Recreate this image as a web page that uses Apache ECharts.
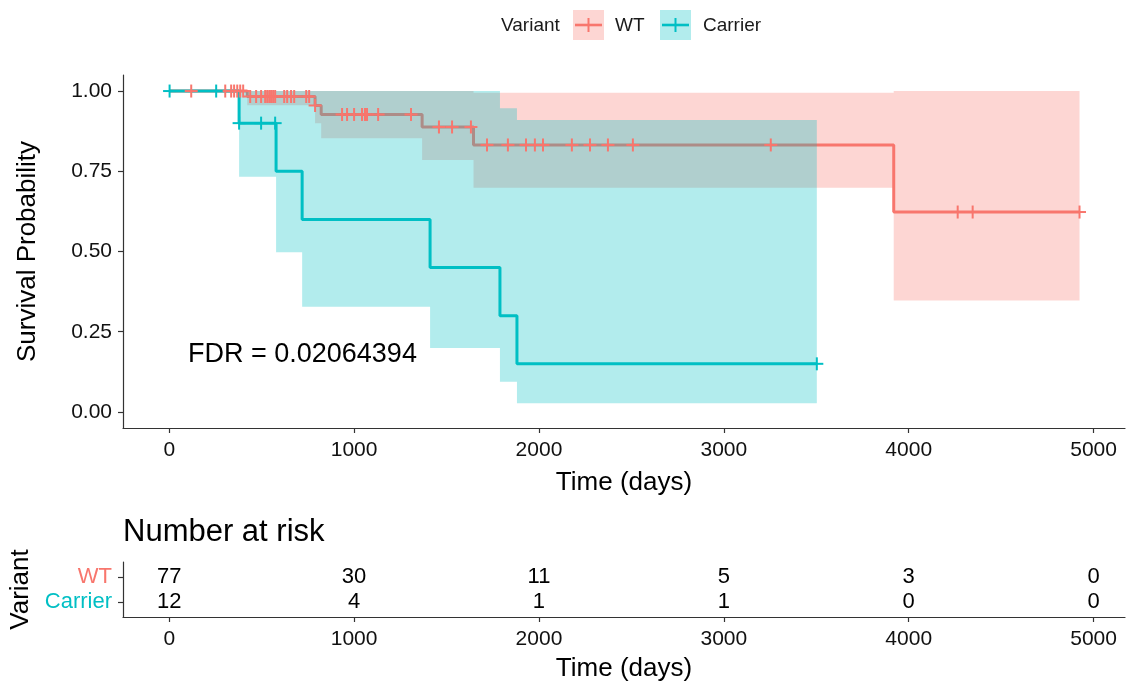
<!DOCTYPE html>
<html>
<head>
<meta charset="utf-8">
<title>Survival by Variant</title>
<script src="https://cdn.jsdelivr.net/npm/echarts@6/dist/echarts.min.js"></script>
<style>
  html, body { margin: 0; padding: 0; background: #ffffff; }
  #chart { width: 1128px; height: 682px; }
</style>
</head>
<body>
<div id="chart"></div>
<script>
// ---- data -------------------------------------------------------------
const timeTicks = [0, 1000, 2000, 3000, 4000, 5000];
const survTicks = [0, 0.25, 0.5, 0.75, 1];

// WT group: event times, survival after each event, confidence limits
const wtEventTimes = [422, 789, 822, 1368, 1646, 3919];
const wtSurv       = [0.983, 0.955, 0.927, 0.888, 0.832, 0.623];
const wtLower      = [0.956, 0.900, 0.853, 0.785, 0.699, 0.347];
const wtUpper      = [1.000, 1.000, 1.000, 1.000, 0.995, 1.000];
const wtLastTime   = 4924;
const wtCensorTimes = [119, 303, 335, 351, 368, 384, 400,
  438, 470, 497, 519, 530, 541, 551, 562, 573, 622, 638, 659, 676, 741, 757,
  789, 935, 962, 1000, 1043, 1059, 1070, 1130, 1308,
  1459, 1530, 1632,
  1719, 1832, 1930, 1978, 2022, 2178, 2276, 2373, 2508, 3254,
  4265, 4346, 4924];

// Carrier group
const carEventTimes = [378, 578, 719, 1411, 1789, 1881];
const carSurv       = [0.90, 0.75, 0.60, 0.45, 0.30, 0.15];
const carLower      = [0.733, 0.498, 0.328, 0.199, 0.094, 0.027];
const carUpper      = [1.000, 1.000, 1.000, 1.000, 0.946, 0.910];
const carLastTime   = 3503;
const carCensorTimes = [2, 254, 378, 497, 573, 3503];

// number at risk table
const riskTimes   = [0, 1000, 2000, 3000, 4000, 5000];
const riskWT      = [77, 30, 11, 5, 3, 0];
const riskCarrier = [12, 4, 1, 1, 0, 0];

const groupNames = ['WT', 'Carrier'];
const fdrText = 'FDR = 0.02064394';

// ---- helpers ----------------------------------------------------------
const WT_COLOR = '#F8766D';
const CAR_COLOR = '#00BFC4';
const WT_FILL = 'rgba(248,118,109,0.3)';
const CAR_FILL = 'rgba(0,191,196,0.3)';
const FONT = '"Liberation Sans", Arial, sans-serif';

function stepLine(times, surv, last) {
  const pts = [[0, 1]];
  times.forEach((t, i) => pts.push([t, surv[i]]));
  pts.push([last, surv[surv.length - 1]]);
  return pts;
}

function survAt(times, surv, t) {
  let s = 1;
  times.forEach((et, i) => { if (t >= et) s = surv[i]; });
  return s;
}

function bandRenderer(times, last, lo, hi, fill) {
  return function (params, api) {
    if (params.dataIndex !== 0) return null;
    const pts = [];
    for (let i = 0; i < times.length; i++) {
      const x1 = i + 1 < times.length ? times[i + 1] : last;
      pts.push(api.coord([times[i], hi[i]]), api.coord([x1, hi[i]]));
    }
    for (let i = times.length - 1; i >= 0; i--) {
      const x1 = i + 1 < times.length ? times[i + 1] : last;
      pts.push(api.coord([x1, lo[i]]), api.coord([times[i], lo[i]]));
    }
    return { type: 'polygon', shape: { points: pts }, style: { fill: fill } };
  };
}

function crossRenderer(color) {
  return function (params, api) {
    const p = api.coord([api.value(0), api.value(1)]);
    const h = 6.5;
    return {
      type: 'group',
      children: [
        { type: 'line', shape: { x1: p[0] - h, y1: p[1], x2: p[0] + h, y2: p[1] }, style: { stroke: color, lineWidth: 2 } },
        { type: 'line', shape: { x1: p[0], y1: p[1] - h, x2: p[0], y2: p[1] + h }, style: { stroke: color, lineWidth: 2 } }
      ]
    };
  };
}

function riskRenderer(params, api) {
  const p = api.coord([api.value(0), api.value(1)]);
  return {
    type: 'text',
    x: p[0], y: p[1],
    style: { text: String(api.value(2)), fill: '#000', font: '22px ' + FONT, align: 'center', verticalAlign: 'middle' }
  };
}

const axisLineStyle = { color: '#333333', width: 1.2 };
const xMin = -250, xMax = 5170;

function timeAxis(gridIndex) {
  return {
    type: 'value', gridIndex: gridIndex, min: xMin, max: xMax,
    name: 'Time (days)', nameLocation: 'middle', nameGap: gridIndex === 0 ? 42 : 39,
    nameTextStyle: { fontFamily: FONT, fontSize: 26, color: '#000' },
    axisLine: { show: true, onZero: false, lineStyle: axisLineStyle },
    axisTick: { show: true, length: 5, lineStyle: axisLineStyle, customValues: timeTicks },
    axisLabel: { show: true, margin: 12, fontFamily: FONT, fontSize: 21, color: '#111',
      customValues: timeTicks, formatter: v => String(v) },
    splitLine: { show: false }
  };
}

// ---- chart ------------------------------------------------------------
const chart = echarts.init(document.getElementById('chart'), null, { renderer: 'canvas' });

const wtCensor = wtCensorTimes.map(t => [t, survAt(wtEventTimes, wtSurv, t)]);
const carCensor = carCensorTimes.map(t => [t, survAt(carEventTimes, carSurv, t)]);
const riskData = [];
riskTimes.forEach((t, i) => {
  riskData.push([t, 2, riskWT[i]]);
  riskData.push([t, 1, riskCarrier[i]]);
});

const option = {
  backgroundColor: '#ffffff',
  animation: false,
  grid: [
    { left: 123, right: 3, top: 75, height: 353, outerBoundsMode: 'none' },
    { left: 123, right: 3, top: 562, height: 55, outerBoundsMode: 'none' }
  ],
  xAxis: [timeAxis(0), timeAxis(1)],
  yAxis: [
    {
      type: 'value', gridIndex: 0, min: -0.05, max: 1.05,
      name: 'Survival Probability', nameLocation: 'middle', nameGap: 82,
      nameTextStyle: { fontFamily: FONT, fontSize: 26, color: '#000' },
      axisLine: { show: true, onZero: false, lineStyle: axisLineStyle },
      axisTick: { show: true, length: 5, lineStyle: axisLineStyle, customValues: survTicks },
      axisLabel: { show: true, margin: 11, fontFamily: FONT, fontSize: 21, color: '#111',
        customValues: survTicks, formatter: v => v.toFixed(2) },
      splitLine: { show: false }
    },
    {
      type: 'value', gridIndex: 1, min: 0.4, max: 2.6,
      name: 'Variant', nameLocation: 'middle', nameGap: 82,
      nameTextStyle: { fontFamily: FONT, fontSize: 26, color: '#000' },
      axisLine: { show: true, onZero: false, lineStyle: axisLineStyle },
      axisTick: { show: true, length: 5, lineStyle: axisLineStyle, customValues: [1, 2] },
      axisLabel: { show: true, margin: 11, fontFamily: FONT, fontSize: 22,
        customValues: [1, 2],
        formatter: v => (v === 2 ? groupNames[0] : groupNames[1]),
        color: v => (Number(v) === 2 ? WT_COLOR : CAR_COLOR) },
      splitLine: { show: false }
    }
  ],
  series: [
    { name: 'WT', type: 'line', step: 'end', data: stepLine(wtEventTimes, wtSurv, wtLastTime),
      symbol: 'none', lineStyle: { color: WT_COLOR, width: 3 }, z: 2, silent: true },
    { name: 'Carrier', type: 'line', step: 'end', data: stepLine(carEventTimes, carSurv, carLastTime),
      symbol: 'none', lineStyle: { color: CAR_COLOR, width: 3 }, z: 2, silent: true },
    { type: 'custom', data: [[0, 1]], renderItem: bandRenderer(wtEventTimes, wtLastTime, wtLower, wtUpper, WT_FILL), z: 3, silent: true },
    { type: 'custom', data: [[0, 1]], renderItem: bandRenderer(carEventTimes, carLastTime, carLower, carUpper, CAR_FILL), z: 3, silent: true },
    { type: 'custom', data: wtCensor, renderItem: crossRenderer(WT_COLOR), z: 4, silent: true },
    { type: 'custom', data: carCensor, renderItem: crossRenderer(CAR_COLOR), z: 4, silent: true },
    { type: 'custom', xAxisIndex: 1, yAxisIndex: 1, data: riskData, renderItem: riskRenderer, z: 4, silent: true }
  ],
  graphic: [
    // legend
    { type: 'text', left: 501, top: 16, style: { text: 'Variant', font: '19px ' + FONT, fill: '#1a1a1a' } },
    { type: 'rect', shape: { x: 573, y: 10, width: 31, height: 30 }, style: { fill: WT_FILL } },
    { type: 'line', shape: { x1: 575, y1: 25, x2: 602, y2: 25 }, style: { stroke: WT_COLOR, lineWidth: 2.6 } },
    { type: 'line', shape: { x1: 588.5, y1: 18, x2: 588.5, y2: 32 }, style: { stroke: WT_COLOR, lineWidth: 2 } },
    { type: 'text', left: 615, top: 16, style: { text: groupNames[0], font: '19px ' + FONT, fill: '#1a1a1a' } },
    { type: 'rect', shape: { x: 660, y: 10, width: 31, height: 30 }, style: { fill: CAR_FILL } },
    { type: 'line', shape: { x1: 662, y1: 25, x2: 689, y2: 25 }, style: { stroke: CAR_COLOR, lineWidth: 2.6 } },
    { type: 'line', shape: { x1: 675.5, y1: 18, x2: 675.5, y2: 32 }, style: { stroke: CAR_COLOR, lineWidth: 2 } },
    { type: 'text', left: 703, top: 16, style: { text: groupNames[1], font: '19px ' + FONT, fill: '#1a1a1a' } },
    // annotation and table title
    { type: 'text', left: 188, top: 341, style: { text: fdrText, font: '27px ' + FONT, fill: '#000' } },
    { type: 'text', left: 123, top: 517, style: { text: 'Number at risk', font: '31px ' + FONT, fill: '#000' } }
  ]
};

chart.setOption(option);
</script>
</body>
</html>
